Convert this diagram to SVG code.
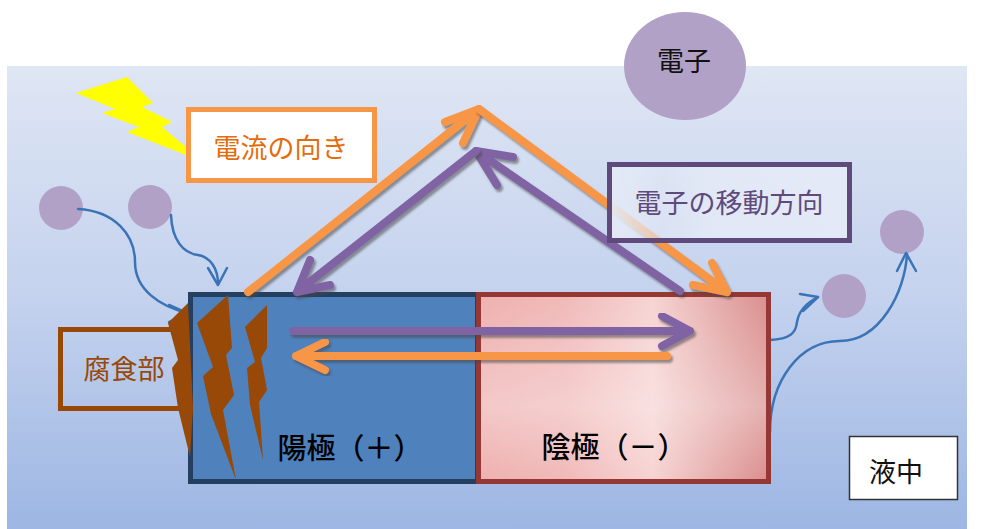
<svg xmlns="http://www.w3.org/2000/svg" width="995" height="529" viewBox="0 0 995 529">
  <defs>
    <linearGradient id="bgGrad" x1="0" y1="0" x2="0" y2="1">
      <stop offset="0" stop-color="#dfe6f4"/>
      <stop offset="0.5" stop-color="#c4d2ee"/>
      <stop offset="1" stop-color="#9db6e3"/>
    </linearGradient>
    <linearGradient id="cathodeGrad" x1="0" y1="0" x2="1" y2="0">
      <stop offset="0" stop-color="#eeb1b0"/>
      <stop offset="0.3" stop-color="#f0bab9"/>
      <stop offset="0.6" stop-color="#f6d4d3"/>
      <stop offset="1" stop-color="#d98f8e"/>
    </linearGradient>
    <linearGradient id="cathodeSheen" x1="0" y1="0" x2="0" y2="1">
      <stop offset="0" stop-color="#ffffff" stop-opacity="0"/>
      <stop offset="0.6" stop-color="#ffffff" stop-opacity="0.3"/>
      <stop offset="1" stop-color="#ffffff" stop-opacity="0"/>
    </linearGradient>
    <linearGradient id="boxFill" x1="0" y1="0" x2="1" y2="0">
      <stop offset="0" stop-color="#e4eaf6" stop-opacity="0.95"/>
      <stop offset="0.22" stop-color="#e4eaf6" stop-opacity="0.55"/>
      <stop offset="0.45" stop-color="#e4eaf6" stop-opacity="0.9"/>
      <stop offset="1" stop-color="#e4eaf6" stop-opacity="0.95"/>
    </linearGradient>
    <filter id="shadow" x="-10%" y="-10%" width="120%" height="130%">
      <feDropShadow dx="2" dy="3" stdDeviation="0.8" flood-color="#4a4a4a" flood-opacity="0.55"/>
    </filter>
  </defs>
  <style>
    .jp { font-family: "Noto Sans CJK JP", "Noto Sans CJK SC", sans-serif; font-size: 27px; text-anchor: middle; dominant-baseline: central; }
    .electrode { font-size: 29px; font-weight: 500; }
    .particle { fill: #b2a1c7; }
    .flow { fill: none; stroke: #3a74b6; stroke-width: 2.5; stroke-linecap: round; stroke-linejoin: round; }
    .cur { fill: none; stroke: #f79646; stroke-width: 8; stroke-linecap: round; stroke-linejoin: round; filter: url(#shadow); }
    .ele { fill: none; stroke: #8064a2; stroke-width: 8; stroke-linecap: round; stroke-linejoin: round; filter: url(#shadow); }
    .rust { fill: #984807; }
  </style>

  <!-- liquid -->
  <rect x="7" y="66" width="960" height="463" fill="url(#bgGrad)"/>

  <g id="electron-legend">
    <ellipse cx="685" cy="66" rx="61" ry="54" class="particle"/>
    <text x="684" y="59" class="jp" fill="#111">電子</text>
  </g>

  <g id="spark">
    <polygon points="76,93 127,77 153,103 142,107 172,122 162,127 204,162 127,132 139,127 102,113 115,109" fill="#ffff00"/>
  </g>

  <g id="current-label">
    <rect x="188.5" y="109.5" width="186" height="71" fill="#ffffff" stroke="#f79646" stroke-width="5"/>
    <text x="281" y="146" class="jp" fill="#e46c0a">電流の向き</text>
  </g>

  <g id="particles">
    <circle cx="61" cy="208" r="22" class="particle"/>
    <circle cx="150" cy="207" r="22" class="particle"/>
    <circle cx="844" cy="296" r="22" class="particle"/>
    <circle cx="902" cy="232" r="22" class="particle"/>
  </g>

  <g id="ion-paths">
    <path class="flow" d="M78,209 C115,211 135,235 135,262 C135,290 160,306 187,313"/>
    <path class="flow" d="M169,305 L187,313 L169,322"/>
    <path class="flow" d="M171,215 C172,240 183,253 198,255 C210,257 218,268 218,284"/>
    <path class="flow" d="M208,268 L218,285 L227,268"/>
    <path class="flow" d="M770,340 C790,339 796,333 797,322 C799,310 808,302 818,297"/>
    <path class="flow" d="M800,294 L818,297 L803,311"/>
    <path class="flow" d="M770,432 C770,380 800,341 840,341 C880,341 905,292 907,254"/>
    <path class="flow" d="M897,271 L906,253 L916,271"/>
  </g>

  <g id="corrosion-label">
    <rect x="60.5" y="329.5" width="126" height="79" fill="none" stroke="#984807" stroke-width="5"/>
    <text x="124" y="367" class="jp" fill="#984807">腐食部</text>
  </g>

  <g id="anode">
    <rect x="190.5" y="294.5" width="287" height="187" fill="#4f81bd" stroke="#243f60" stroke-width="5"/>
  </g>

  <g id="cathode">
    <rect x="478.5" y="294.5" width="290" height="187" fill="url(#cathodeGrad)" stroke="#953735" stroke-width="5"/>
    <rect x="481" y="297" width="285" height="182" fill="url(#cathodeSheen)"/>
  </g>

  <g id="connectors">
    <!-- inside the cell -->
    <path class="ele" d="M293,331 L690,331 M662,316 L690,331 L662,346"/>
    <path class="cur" d="M667,356 L296,356 M325,342 L296,356 L325,370"/>
    <!-- external circuit: current -->
    <path class="cur" d="M248,292 L479,109 M445,122 L479,109 L463,143"/>
    <path class="cur" d="M479,109 L727,292 M712,263 L727,292 L693,285"/>
    <!-- external circuit: electrons -->
    <path class="ele" d="M680,291 L476,151 M513,157 L476,151 L497,185"/>
    <path class="ele" d="M476,151 L297,292 M330,285 L297,292 L310,260"/>
  </g>

  <g id="corrosion">
    <polygon class="rust" points="168,323 188,303 193,408 190,457 178,408 172,368 178,360"/>
    <polygon class="rust" points="197,323 228,295 232,348 226,355 234,395 223,410 236,480 211,414 203,376 213,367"/>
    <polygon class="rust" points="245,327 267,305 267,348 261,358 267,390 259,402 263,460 250,405 247,368 255,362"/>
  </g>

  <g id="electron-label">
    <rect x="609.5" y="164.5" width="240" height="76" fill="url(#boxFill)" stroke="#604a7b" stroke-width="5"/>
    <text x="729" y="201" class="jp" fill="#604a7b">電子の移動方向</text>
  </g>

  <g id="anode-label">
    <text x="350" y="446" class="jp electrode" fill="#000">陽極（＋）</text>
  </g>
  <g id="cathode-label">
    <text x="614" y="445" class="jp electrode" fill="#000">陰極（－）</text>
  </g>

  <g id="liquid-label">
    <rect x="849.5" y="436.5" width="108" height="63" fill="#ffffff" stroke="#333333" stroke-width="1.5"/>
    <text x="896" y="470" class="jp" fill="#111">液中</text>
  </g>
</svg>
